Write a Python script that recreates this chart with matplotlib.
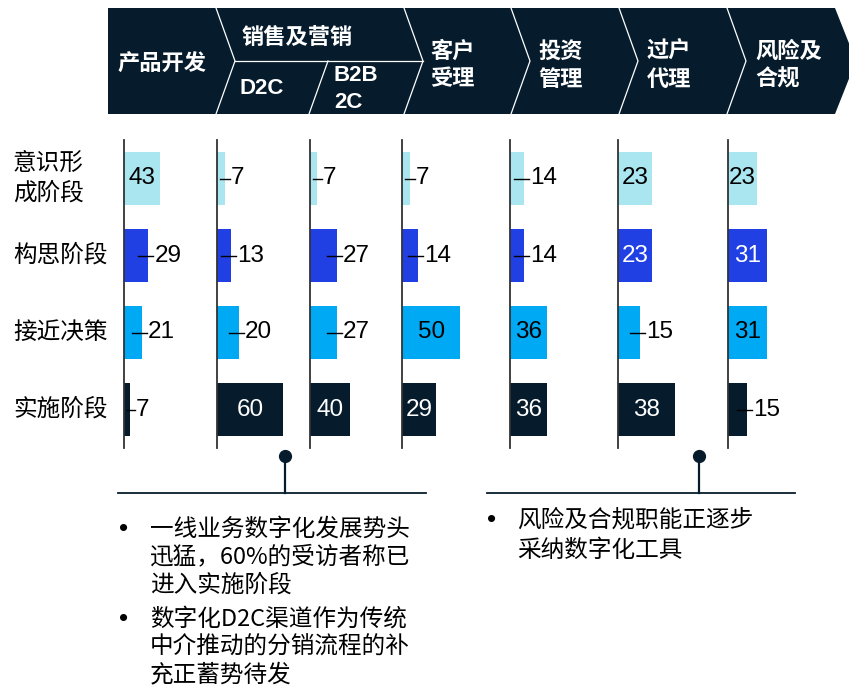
import matplotlib
matplotlib.use("Agg")
import matplotlib.pyplot as plt
from matplotlib.patches import Polygon
from matplotlib.lines import Line2D

# ---------------- data ----------------
stages = ["意识形\n成阶段", "构思阶段", "接近决策", "实施阶段"]
functions = ["产品开发", "D2C", "B2B2C", "客户受理", "投资管理", "过户代理", "风险及合规"]
prod_dev = [43, 29, 21, 7]
d2c = [7, 13, 20, 60]
b2b2c = [7, 27, 27, 40]
onboarding = [7, 14, 50, 29]
invest_mgmt = [14, 14, 36, 36]
transfer = [23, 23, 15, 38]
risk = [23, 31, 31, 15]
columns = [prod_dev, d2c, b2b2c, onboarding, invest_mgmt, transfer, risk]

notes_left = [["一线业务数字化发展势头", "迅猛，60%的受访者称已", "进入实施阶段"],
              ["数字化D2C渠道作为传统", "中介推动的分销流程的补", "充正蓄势待发"]]
notes_right = [["风险及合规职能正逐步", "采纳数字化工具"]]

# ---------------- style ----------------
NAVY = "#061c2c"
ROW_COLORS = ["#aae6f0", "#2140e4", "#00a9f4", "#061c2c"]
LABEL_COLORS = ["black", "white", "black", "white"]
CJK = ["Noto Sans CJK SC", "DejaVu Sans"]
LAT = ["Liberation Sans", "DejaVu Sans"]

W, H = 849, 686
col_x = [124, 217, 310, 402, 510, 618, 728]          # baseline of each panel (px)
col_max = [119, 91, 101, 85.5, 98, 66.7, 78.7]       # x range shown in each 100px panel
PANEL_W = 100
TOP, BOT = 140, 448

fig = plt.figure(figsize=(W / 100, H / 100), dpi=100)
bg = fig.add_axes([0, 0, 1, 1])
bg.set_xlim(0, W)
bg.set_ylim(H, 0)
bg.axis("off")


def line_text(ax, x, y, lines, step, **kw):
    # place each line separately so the spacing is exact
    y0 = y - step * (len(lines) - 1) / 2
    for k, s in enumerate(lines):
        ax.text(x, y0 + k * step, s, **kw)


# header chevron band
bg.add_patch(Polygon([(108, 8), (835, 8), (856, 61), (835, 114), (108, 114)],
                     closed=True, facecolor=NAVY, edgecolor="none"))
for sx in [216, 404, 511, 619, 727]:
    bg.add_line(Line2D([sx, sx + 19, sx], [8, 61, 114], color="white", lw=0.9))
bg.add_line(Line2D([235, 423], [61, 61], color="white", lw=0.9))
bg.add_line(Line2D([328, 309], [61, 114], color="white", lw=0.9))

hdr = dict(color="white", fontsize=16, fontweight="bold", va="center", ha="left")
bg.text(117, 64, "产品开发", family=CJK, **hdr)
bg.text(242, 38, "销售及营销", family=CJK, **hdr)
bg.text(240, 89, "D2C", family=LAT, **hdr)
line_text(bg, 334, 89, ["B2B", "2C"], 27, family=LAT, **hdr)
line_text(bg, 430, 65, ["客户", "受理"], 28, family=CJK, **hdr)
line_text(bg, 538, 65, ["投资", "管理"], 28, family=CJK, **hdr)
line_text(bg, 647, 65, ["过户", "代理"], 28, family=CJK, **hdr)
line_text(bg, 755, 65, ["风险及", "合规"], 28, family=CJK, **hdr)

# bar panels
ypos = list(range(len(stages)))
axes = []
for i, vals in enumerate(columns):
    ax = fig.add_axes([col_x[i] / W, (H - BOT) / H, PANEL_W / W, (BOT - TOP) / H])
    ax.set_xlim(0, col_max[i])
    ax.set_ylim(len(stages) - 0.5, -0.5)
    ax.barh(ypos, vals, height=0.7, color=ROW_COLORS, edgecolor="none", zorder=2)
    for s in ["top", "right", "bottom"]:
        ax.spines[s].set_visible(False)
    ax.spines["left"].set_color("#333333")
    ax.spines["left"].set_linewidth(1.3)
    ax.set_xticks([])
    ax.set_yticks([])
    ax.patch.set_visible(False)
    px = PANEL_W / col_max[i]  # pixels per unit
    for r, v in enumerate(vals):
        wpx = v * px
        if wpx >= 28:
            ax.text(v / 2, r, str(v), ha="center", va="center", fontsize=17.5,
                    family=LAT, color=LABEL_COLORS[r], zorder=3)
        else:
            x0 = max(3, wpx - 10) / px
            x1 = (wpx + 5) / px
            ax.plot([x0, x1], [r, r], color="black", lw=1.0, zorder=3)
            ax.text((wpx + 6) / px, r, str(v), ha="left", va="center",
                    fontsize=17.5, family=LAT, color="black", zorder=3)
    axes.append(ax)

# row labels, aligned with the bar rows
to_bg = bg.transData.inverted()
for r, lab in enumerate(stages):
    _, yy = to_bg.transform(axes[0].transData.transform((0, r)))
    line_text(bg, 13, yy, lab.split("\n"), 30, family=CJK, fontsize=17,
              color="black", va="center", ha="left")

# callout connectors
for (dx, x0, x1) in [(285, 118, 426), (699, 487, 795)]:
    bg.add_line(Line2D([x0, x1], [493, 493], color=NAVY, lw=1.3))
    bg.add_line(Line2D([dx, dx], [456, 493], color=NAVY, lw=1.6))
    bg.plot([dx], [456], marker="o", ms=8.5, color=NAVY)

# bullet notes
def bullets(x_dot, x_txt, y_start, groups, step=28, gap=6):
    y = y_start
    for g in groups:
        bg.text(x_dot, y, "•", fontsize=19, family=LAT, va="center", ha="center")
        for s in g:
            bg.text(x_txt, y, s, fontsize=17, family=CJK, va="center", ha="left")
            y += step
        y += gap


bullets(124, 150, 529, notes_left)
bullets(492, 517, 520, notes_right, step=30)

fig.savefig("out.png", dpi=100)
